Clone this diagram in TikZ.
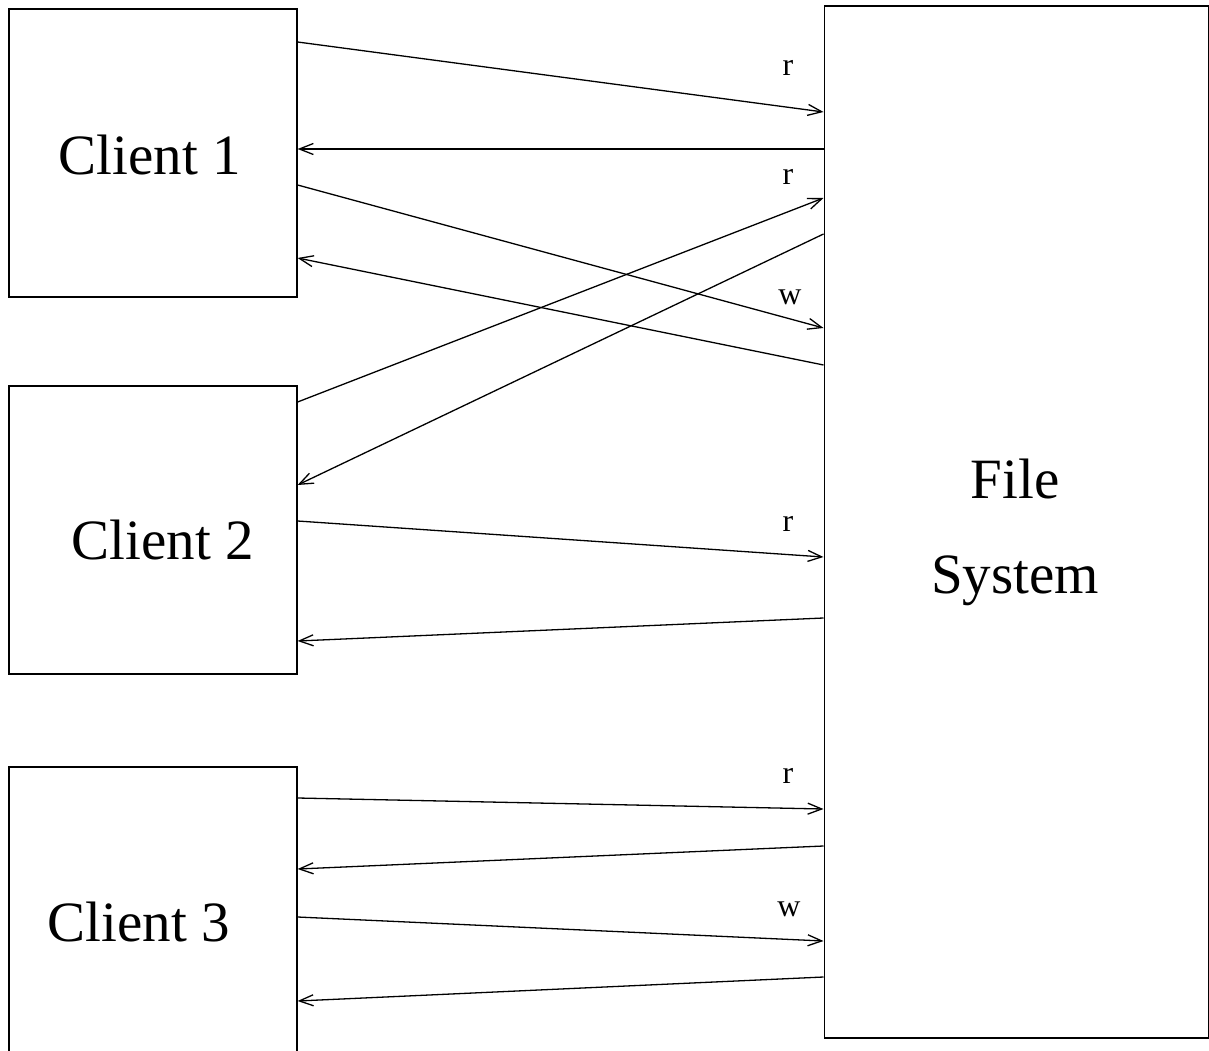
\documentclass[tikz,border=0pt]{standalone}
\usepackage{fontspec}
\setmainfont{Liberation Serif}
\usetikzlibrary{arrows.meta}

\begin{document}
\begin{tikzpicture}[x=1pt,y=-1pt,line width=1.6pt]
\tikzstyle{every node}+=[inner sep=0pt]
\tikzstyle{client}=[draw,black,anchor=north west,minimum width=288pt,minimum height=288pt]
\tikzstyle{big}=[font=\fontsize{57}{95}\selectfont]
\tikzstyle{small}=[font=\fontsize{32}{38}\selectfont]
\tikzstyle{msg}=[-{Straight Barb[length=14pt,width=11pt]},line width=1.3pt]
\path[use as bounding box,clip] (0,0) rectangle (1209,1051);
\fill [white] (0,0) rectangle (1209,1051);
% boxes
\node (c1) [client] at (8,8) {};
\node (c2) [client] at (8,385) {};
\node (c3) [client] at (8,766) {};
\node (fs) [draw,black,anchor=north west,minimum width=384.5pt,minimum height=1031.5pt] at (823.5,5.5) {};
\node (c1text) [big] at (150,155) {Client 1};
\node (c2text) [big] at (163,540) {Client 2};
\node (c3text) [big] at (139,922) {Client 3};
\node (fstext) [big,align=center] at (1015,532) {File\\System};
% client 1
\draw [msg] ([yshift=-34pt]c1.north east) -- ([yshift=-106.5pt]fs.north west);
\draw [msg] ([yshift=-143.5pt]fs.north west) -- ([yshift=-141pt]c1.north east);
\draw [msg] ([yshift=-177pt]c1.north east) -- ([yshift=-322.5pt]fs.north west);
\draw [msg] ([yshift=-359.5pt]fs.north west) -- ([yshift=-250pt]c1.north east);
% client 2
\draw [msg] ([yshift=-17pt]c2.north east) -- ([yshift=-192.5pt]fs.north west);
\draw [msg] ([yshift=-228.5pt]fs.north west) -- ([yshift=-100pt]c2.north east);
\draw [msg] ([yshift=-136pt]c2.north east) -- ([yshift=-551.5pt]fs.north west);
\draw [msg] ([yshift=-612.5pt]fs.north west) -- ([yshift=-256pt]c2.north east);
% client 3
\draw [msg] ([yshift=-32pt]c3.north east) -- ([yshift=-803.5pt]fs.north west);
\draw [msg] ([yshift=-840.5pt]fs.north west) -- ([yshift=-103pt]c3.north east);
\draw [msg] ([yshift=-151pt]c3.north east) -- ([yshift=-935.5pt]fs.north west);
\draw [msg] ([yshift=-971.5pt]fs.north west) -- ([yshift=-235pt]c3.north east);
% labels
\node (r1) [small] at (788,68) {r};
\node (r2) [small] at (788,177) {r};
\node (w1) [small] at (790,297) {w};
\node (r3) [small] at (788,524) {r};
\node (r4) [small] at (788,776) {r};
\node (w2) [small] at (789,909) {w};
\end{tikzpicture}
\end{document}
